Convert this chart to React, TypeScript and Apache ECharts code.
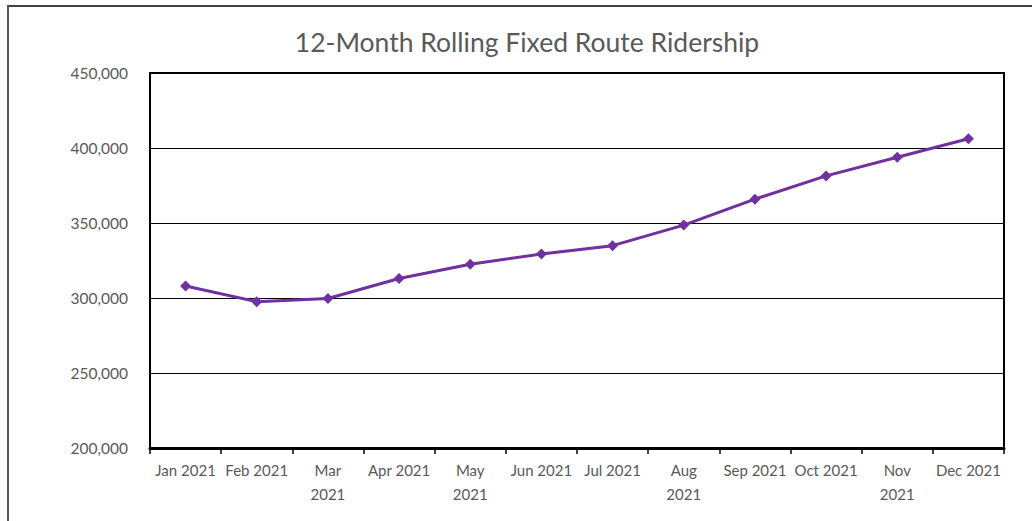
import React, { useEffect, useRef } from "react";
import * as echarts from "echarts";

const categories = [
  "Jan 2021", "Feb 2021", "Mar\n2021", "Apr 2021", "May\n2021", "Jun 2021",
  "Jul 2021", "Aug\n2021", "Sep 2021", "Oct 2021", "Nov\n2021", "Dec 2021",
];
const ridership = [
  308000, 297500, 299700, 313000, 322500, 329300,
  334900, 348600, 365900, 381400, 393800, 406200,
];
const yTicks = { min: 200000, max: 450000, interval: 50000 };
const title = "12-Month Rolling Fixed Route Ridership";

const FONT = "Lato, 'Open Sans', sans-serif";
const GREY = "#595959";

export default function App() {
  const ref = useRef<HTMLDivElement>(null);
  useEffect(() => {
    if (!ref.current) return;
    const chart = echarts.init(ref.current, undefined, { renderer: "svg" });
    chart.setOption({
      animation: false,
      backgroundColor: "#ffffff",
      title: {
        text: title,
        left: 522,
        textAlign: "center",
        top: 23,
        textStyle: { fontFamily: FONT, fontSize: 26.5, fontWeight: "normal", color: GREY },
      },
      graphic: [
        { type: "line", shape: { x1: 7, y1: 6, x2: 1032, y2: 6 }, style: { stroke: "#404040", lineWidth: 2 } },
        { type: "line", shape: { x1: 8, y1: 6, x2: 8, y2: 521 }, style: { stroke: "#595959", lineWidth: 2 } },
      ],
      grid: {
        left: 150, right: 28, top: 73, bottom: 73,
        show: true, borderColor: "#000", borderWidth: 2, backgroundColor: "transparent",
      },
      xAxis: {
        type: "category",
        data: categories,
        boundaryGap: true,
        axisLine: { lineStyle: { color: "#000", width: 3 } },
        axisTick: { show: true, alignWithLabel: false, length: 6, lineStyle: { color: "#000", width: 1.5 } },
        axisLabel: {
          interval: 0, margin: 10, color: GREY, fontFamily: FONT, fontSize: 15, lineHeight: 24,
        },
        splitLine: { show: false },
      },
      yAxis: {
        type: "value",
        min: yTicks.min,
        max: yTicks.max,
        interval: yTicks.interval,
        axisLine: { show: true, lineStyle: { color: "#000", width: 2 } },
        axisTick: { show: false },
        axisLabel: {
          margin: 22, color: GREY, fontFamily: FONT, fontSize: 15.5,
          formatter: (v: number) => v.toLocaleString("en-US"),
        },
        splitLine: { show: true, lineStyle: { color: "#000", width: 1 } },
      },
      series: [
        {
          type: "line",
          data: ridership,
          symbol: "diamond",
          symbolSize: 11,
          itemStyle: { color: "#7030A0" },
          lineStyle: { color: "#7030A0", width: 3 },
        },
      ],
    });
    return () => chart.dispose();
  }, []);
  return (
    <div
      ref={ref}
      style={{ position: "fixed", left: 0, top: 0, width: 1032, height: 521 }}
    />
  );
}
